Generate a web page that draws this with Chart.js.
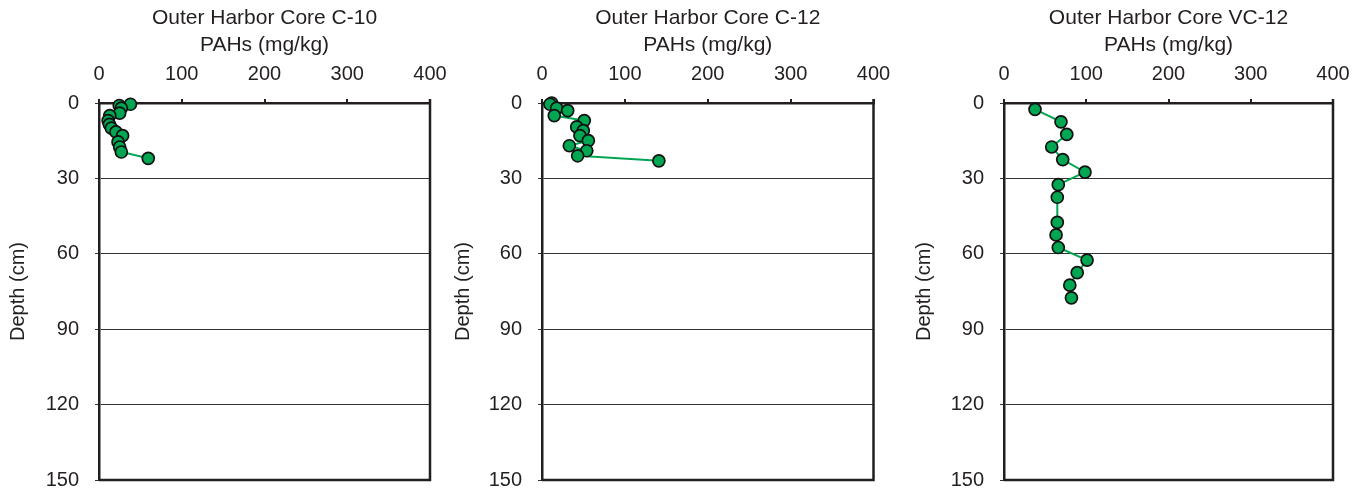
<!DOCTYPE html>
<html>
<head>
<meta charset="utf-8">
<script src="https://cdn.jsdelivr.net/npm/chart.js@4/dist/chart.umd.min.js"></script>
<style>
  html, body { margin: 0; padding: 0; background: #fff; }
  body { width: 1370px; height: 494px; position: relative; overflow: hidden; }
  canvas { position: absolute; top: 0; }
</style>
</head>
<body>
<canvas id="c10" width="460" height="508" style="left:0px"></canvas>
<canvas id="c12" width="460" height="508" style="left:445px"></canvas>
<canvas id="vc12" width="460" height="508" style="left:906px"></canvas>
<script>
/* ---- data ---- */
const titles = ["Outer Harbor Core C-10", "Outer Harbor Core C-12", "Outer Harbor Core VC-12"];

const c10Pah   = [38, 24.5, 27, 25, 13, 11, 12.5, 15, 20.5, 28.5, 23, 25, 27, 59.5];
const c10Depth = [0.5, 1, 2, 4, 5, 7, 8.5, 10, 11.5, 13, 15.5, 17.5, 19.5, 22];

const c12Pah   = [11.7, 9.6, 17.7, 31, 14.8, 51, 41.9, 49.8, 45.8, 55.9, 33, 54, 43, 141];
const c12Depth = [0, 0.5, 2, 3, 5, 7, 9.5, 11, 13, 15, 17, 19, 21, 23];

const vc12Pah   = [37.7, 69.3, 76.3, 58, 71.4, 98.5, 66, 64.8, 64.8, 63.3, 66, 101, 89, 80, 82];
const vc12Depth = [2.5, 7.5, 12.5, 17.5, 22.5, 27.5, 32.5, 37.5, 47.5, 52.5, 57.5, 62.5, 67.5, 72.5, 77.5];

const pahTicks   = [0, 100, 200, 300, 400];
const depthTicks = [0, 30, 60, 90, 120, 150];

const INK = "#231f20";
const GREEN = "#00a651";
const FONT = "'Liberation Sans', Arial, Helvetica, sans-serif";

// right and bottom edges of the plot box
const frame = {
  id: "frame",
  beforeDatasetsDraw(chart) {
    const { ctx, chartArea: a } = chart;
    ctx.save();
    ctx.strokeStyle = INK;
    ctx.lineWidth = 2.5;
    ctx.beginPath();
    ctx.moveTo(a.right, a.top - 4);
    ctx.lineTo(a.right, a.bottom);
    ctx.lineTo(a.left, a.bottom);
    ctx.stroke();
    ctx.restore();
  },
};

function makeCore(id, title, pah, depth, yWidth, padRight) {
  const pts = pah.map((v, i) => ({ x: v, y: depth[i] }));
  return new Chart(document.getElementById(id), {
    type: "scatter",
    data: {
      datasets: [{
        data: pts,
        showLine: true,
        clip: false,
        borderColor: GREEN,
        borderWidth: 2,
        pointRadius: 6,
        pointBackgroundColor: GREEN,
        pointBorderColor: "#111",
        pointBorderWidth: 1.7,
      }],
    },
    options: {
      responsive: false,
      animation: false,
      layout: { padding: { top: 0, left: 0, right: padRight, bottom: 1 } },
      plugins: { legend: { display: false }, tooltip: { enabled: false } },
      scales: {
        x: {
          type: "linear",
          position: "top",
          min: 0,
          max: 400,
          afterBuildTicks: (s) => { s.ticks = pahTicks.map((v) => ({ value: v })); },
          afterFit: (s) => { s.height = 103; },
          border: { color: INK, width: 2.5 },
          grid: { drawOnChartArea: false, drawTicks: true, tickLength: 4, color: INK, lineWidth: 2 },
          ticks: { color: INK, padding: 13, font: { family: FONT, size: 20 } },
          title: {
            display: true,
            text: [title, "PAHs (mg/kg)"],
            color: INK,
            padding: { top: 4.5, bottom: 0 },
            font: { family: FONT, size: 21, lineHeight: 27 / 21 },
          },
        },
        y: {
          type: "linear",
          reverse: true,
          min: 0,
          max: 150,
          afterBuildTicks: (s) => { s.ticks = depthTicks.map((v) => ({ value: v })); },
          afterFit: (s) => { s.width = yWidth; },
          border: { color: INK, width: 2.5 },
          grid: { color: "#333", lineWidth: 1, drawTicks: true, tickLength: 4 },
          ticks: { color: INK, padding: 16, font: { family: FONT, size: 20 } },
          title: {
            display: true,
            text: "Depth (cm)",
            color: INK,
            padding: { top: 6, bottom: 0 },
            font: { family: FONT, size: 20 },
          },
        },
      },
    },
    plugins: [frame],
  });
}

makeCore("c10", titles[0], c10Pah, c10Depth, 99, 30);
makeCore("c12", titles[1], c12Pah, c12Depth, 97, 31.5);
makeCore("vc12", titles[2], vc12Pah, vc12Depth, 98, 33);
</script>
</body>
</html>
